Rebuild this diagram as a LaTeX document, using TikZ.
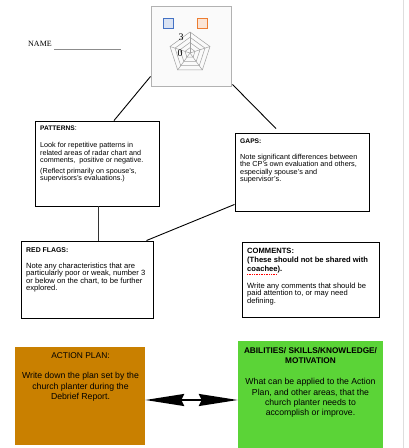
\documentclass[tikz,border=0pt]{standalone}
\usepackage{fontspec}
\setmainfont{Liberation Sans}
\newfontfamily\serifname{Liberation Serif}
\usetikzlibrary{arrows.meta,calc}
\definecolor{planorange}{RGB}{201,128,0}
\definecolor{skillgreen}{RGB}{91,212,55}
\definecolor{radargray}{RGB}{160,160,160}
\definecolor{chartblue}{RGB}{68,114,196}
\definecolor{chartblueL}{RGB}{218,227,243}
\definecolor{chartorange}{RGB}{237,125,49}
\definecolor{chartorangeL}{RGB}{251,229,214}
\begin{document}
\begin{tikzpicture}[x=1pt,y=1pt,
  card/.style={draw=black, line width=0.9pt, fill=white, inner sep=0pt},
  txt/.style={inner sep=0pt, anchor=north west, align=left},
  link/.style={draw=black, line width=0.9pt},
  fillbox/.style={draw=none, inner sep=0pt},
  swatch/.style={line width=1pt, minimum width=10pt, minimum height=10pt, inner sep=0pt},
]
\useasboundingbox (0,0) rectangle (408,448);
\fill[white] (0,0) rectangle (408,448);
\draw[black!13, line width=1pt] (403,0) -- (403,448);

% name line
\node[inner sep=0pt, anchor=base west, font=\serifname\fontsize{8}{9}\selectfont] (namelbl) at (28,401) {NAME};
\draw[black!45, line width=0.6pt] (54,399) -- (121,399);

% radar chart box
\node[draw=black!30, fill=black!2, line width=1pt, minimum width=80pt, minimum height=80pt, inner sep=0pt] (radar) at (191,401) {};
\node[swatch, draw=chartblue, fill=chartblueL] (sqb) at (168.5,424) {};
\node[swatch, draw=chartorange, fill=chartorangeL] (sqo) at (202.5,424) {};
\begin{scope}[shift={(190,395)}, radargray, line width=0.5pt]
  \foreach \r in {5.25,10.5,15.75,21}
    \draw (90:\r) -- (162:\r) -- (234:\r) -- (306:\r) -- (18:\r) -- cycle;
  \foreach \a in {90,162,234,306,18}
    \draw (0,0) -- (\a:21);
\end{scope}
\node[inner sep=0pt, font=\serifname\fontsize{10}{10}\selectfont] (lbl3) at (181,411) {3};
\node[inner sep=0pt, font=\serifname\fontsize{10}{10}\selectfont] (lbl0) at (180,395) {0};

% boxes
\node[card, minimum width=124pt, minimum height=85pt] (patterns) at (97,284.5) {};
\node[card, minimum width=134pt, minimum height=78pt] (gaps) at (302,276) {};
\node[card, minimum width=132pt, minimum height=77pt] (redflags) at (87,168.5) {};
\node[card, minimum width=137pt, minimum height=75pt] (comments) at (310.5,168.5) {};
\node[fillbox, fill=planorange, minimum width=130pt, minimum height=98pt] (action) at (80,52) {};
\node[fillbox, fill=skillgreen, minimum width=145pt, minimum height=107pt] (skills) at (310.5,53.5) {};

% texts
\node[txt, font=\fontsize{7.2}{7.3}\selectfont] (ptxt) at (40,322) {%
{\bfseries\fontsize{6.6}{7.3}\selectfont PATTERNS}:\\[9.7pt]
Look for repetitive patterns in\\
related areas of radar chart and\\
comments,\ \ positive or negative.\\[3.7pt]
(Reflect primarily on spouse’s,\\
supervisors’s evaluations.)};

\node[txt, font=\fontsize{7.3}{7.3}\selectfont] (gtxt) at (240,309) {%
{\bfseries\fontsize{6.7}{7.3}\selectfont GAPS:}\\[8.4pt]
Note significant differences between\\
the CP’s own evaluation and others,\\
especially spouse’s and\\
supervisor’s.};

\node[txt, font=\fontsize{7.6}{7.3}\selectfont] (rtxt) at (26,200.3) {%
{\bfseries\fontsize{6.9}{7.3}\selectfont RED FLAGS:}\\[8.4pt]
Note any characteristics that are\\
particularly poor or weak, number 3\\
or below on the chart, to be further\\
explored.};

\node[txt, font=\fontsize{7.6}{7.3}\selectfont] (ctxt) at (247,200.5) {%
{\bfseries COMMENTS:}\\[2pt]
{\bfseries (These should not be shared with}\\[2pt]
{\bfseries coachee).}\\[9.7pt]
Write any comments that should be\\
paid attention to, or may need\\
defining.};
\draw[red, densely dotted, line width=0.7pt] (247,174) -- (276,174);

\node[inner sep=0pt, anchor=north, align=center, font=\fontsize{8.7}{10.3}\selectfont] (atxt) at (80.5,96) {%
{\fontsize{8.4}{10.3}\selectfont ACTION PLAN:}\\[10.4pt]
Write down the plan set by the\\
church planter during the\\
Debrief Report.};

\node[inner sep=0pt, anchor=north, align=center, font=\fontsize{8.7}{10.3}\selectfont] (stxt) at (310.5,101) {%
{\bfseries\fontsize{8.25}{10}\selectfont ABILITIES/ SKILLS/KNOWLEDGE/}\\[-0.3pt]
{\bfseries\fontsize{8.25}{10}\selectfont MOTIVATION}\\[11.4pt]
What can be applied to the Action\\
Plan, and other areas, that the\\
church planter needs to\\
accomplish or improve.};

% connectors
\draw[link] ([yshift=11pt]radar.south west) -- ([xshift=17pt]patterns.north);
\draw[link] ([xshift=1pt,yshift=3pt]radar.south east) -- ([shift={(-26pt,4pt)}]gaps.north);
\draw[link, black!80] ([xshift=1pt]patterns.south) -- ([xshift=1pt]patterns.south |- redflags.north);
\draw[link] ([yshift=7pt]gaps.south west) -- ([xshift=-7pt]redflags.north east);
\draw[line width=2pt, {Stealth[length=39pt,width=12pt,inset=3pt]}-{Stealth[length=39pt,width=12pt,inset=3pt]}]
  ([yshift=-4pt]action.east) -- ([yshift=-5.5pt]skills.west);
\end{tikzpicture}
\end{document}
